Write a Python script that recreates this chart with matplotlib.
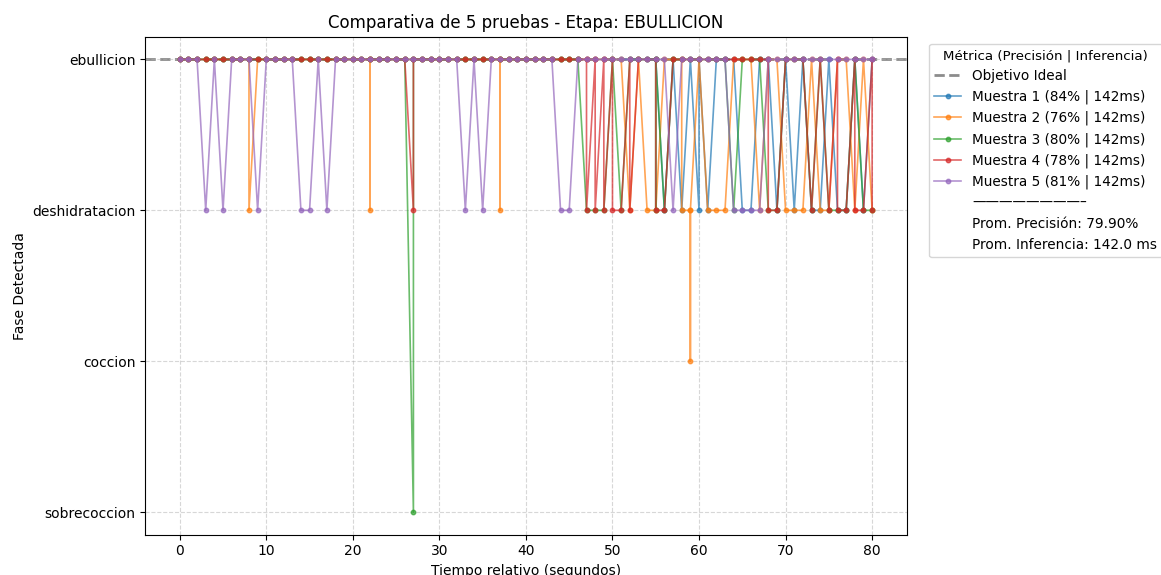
import matplotlib
matplotlib.use("Agg")
import matplotlib.pyplot as plt
from matplotlib.lines import Line2D

# ---- data ----
phases = ["sobrecoccion", "coccion", "deshidratacion", "ebullicion"]
target_phase = 3  # ebullicion

t1 = [0,1,2,3,4,5,6,7,8,9,10,11,12,13,14,15,16,17,18,19,20,21,22,23,24,25,26,27,28,29,
      30,31,32,33,34,35,36,37,38,39,40,41,42,43,44,45,46,47,48,49,50,51,52,53,54,55,56,57,58,59,
      60,60,61,62,63,64,65,66,67,68,69,70,71,72,73,74,75,76,77,78,79,80]
p1 = [3,3,3,3,3,3,3,3,3,3,3,3,3,3,3,3,3,3,3,3,3,3,3,3,3,3,3,3,3,3,
      3,3,3,3,3,3,3,3,3,3,3,3,3,3,3,3,3,3,3,3,3,3,3,3,3,3,2,3,2,3,
      2,3,2,3,3,3,2,2,3,3,2,3,2,3,2,2,3,2,2,3,2,3]

t2 = [0,1,2,3,4,5,6,7,8,8,9,10,11,12,13,14,15,16,17,18,19,20,21,22,22,22,23,24,25,26,27,28,29,
      30,31,32,33,34,35,36,37,37,37,38,39,40,41,42,43,44,45,46,47,48,49,50,51,52,53,54,55,56,57,
      58,58,59,59,59,60,61,62,63,64,65,66,67,68,69,70,71,72,73,74,75,76,77,78,79,80]
p2 = [3,3,3,3,3,3,3,3,3,2,3,3,3,3,3,3,3,3,3,3,3,3,3,3,2,3,3,3,3,3,3,3,3,
      3,3,3,3,3,3,3,3,2,3,3,3,3,3,3,3,3,3,3,3,3,3,3,3,2,3,2,2,3,3,
      3,2,2,1,2,3,2,2,2,3,3,3,2,3,3,2,2,2,3,2,2,3,3,2,3,2]

t3 = [0,1,2,3,4,5,6,7,8,9,10,11,12,13,14,15,16,17,18,19,20,21,22,23,24,25,26,27,27,28,29,
      30,31,32,33,34,35,36,37,38,39,40,41,42,43,44,45,46,47,48,49,50,51,52,53,54,55,55,55,56,57,
      58,59,60,61,62,63,64,65,66,67,68,69,70,71,72,73,74,75,76,77,78,79,80]
p3 = [3,3,3,3,3,3,3,3,3,3,3,3,3,3,3,3,3,3,3,3,3,3,3,3,3,3,3,0,3,3,3,
      3,3,3,3,3,3,3,3,3,3,3,3,3,3,3,3,3,2,2,2,3,2,3,3,3,3,2,3,2,3,
      3,3,3,3,3,3,2,3,3,3,2,2,3,3,3,2,3,2,2,2,3,2,2]

t4 = [0,1,2,3,4,5,6,7,8,9,10,11,12,13,14,15,16,17,18,19,20,21,22,23,24,25,26,27,27,28,29,
      30,31,32,33,34,35,36,37,38,39,40,41,42,43,44,45,46,47,47,48,48,49,49,50,50,51,52,52,53,54,
      55,55,56,57,58,59,60,61,62,63,64,65,66,67,68,68,69,70,71,72,73,74,75,76,76,77,78,78,79,80,80]
p4 = [3,3,3,3,3,3,3,3,3,3,3,3,3,3,3,3,3,3,3,3,3,3,3,3,3,3,3,2,3,3,3,
      3,3,3,3,3,3,3,3,3,3,3,3,3,3,3,3,3,3,2,3,2,3,2,3,2,2,3,2,3,3,
      3,2,2,3,3,3,3,3,3,3,3,3,3,3,3,2,2,3,3,3,2,3,2,3,2,2,3,2,2,3,2]

t5 = [0,1,2,3,4,5,6,7,8,9,10,11,12,13,14,15,16,17,18,19,20,21,22,23,24,25,26,27,28,29,
      30,31,32,33,34,35,36,37,38,39,40,41,42,43,44,45,46,47,48,49,50,51,52,53,54,55,56,57,58,59,
      60,61,62,63,64,65,66,67,68,69,70,71,72,73,74,75,76,77,78,79,80]
p5 = [3,3,3,2,3,2,3,3,3,2,3,3,3,3,2,2,3,2,3,3,3,3,3,3,3,3,3,3,3,3,
      3,3,3,2,3,2,3,3,3,3,3,3,3,3,2,2,3,3,3,3,3,3,3,3,3,3,3,2,3,3,
      3,3,3,3,2,2,2,2,3,3,3,3,3,3,3,3,3,3,3,3,3]

times = [t1, t2, t3, t4, t5]
preds = [p1, p2, p3, p4, p5]
precisions = [84, 76, 80, 78, 81]
inferences = [142, 142, 142, 142, 142]
avg_precision = 79.90
avg_inference = 142.0
colors = ["#1f77b4", "#ff7f0e", "#2ca02c", "#d62728", "#9467bd"]

# ---- plot ----
fig = plt.figure(figsize=(11.61, 5.75), dpi=100)
ax = fig.add_axes([0.125, 0.070, 0.656, 0.866])

ax.axhline(target_phase, color="gray", linestyle="--", linewidth=2, alpha=0.9,
           label="Objetivo Ideal", zorder=1)

for i, (t, p) in enumerate(zip(times, preds)):
    ax.plot(t, p, marker="o", markersize=3.2, linewidth=1.2, alpha=0.7,
            color=colors[i],
            label=f"Muestra {i+1} ({precisions[i]}% | {inferences[i]}ms)", zorder=2)

ax.set_yticks(range(len(phases)))
ax.set_yticklabels(phases)
ax.set_xticks([0, 10, 20, 30, 40, 50, 60, 70, 80])
ax.grid(True, linestyle="--", alpha=0.5)
ax.set_title("Comparativa de 5 pruebas - Etapa: EBULLICION", fontsize=12)
ax.set_xlabel("Tiempo relativo (segundos)")
ax.set_ylabel("Fase Detectada")

handles, labels = ax.get_legend_handles_labels()
blank = Line2D([], [], linestyle="none", marker=None)
handles += [blank, blank, blank]
labels += ["\u2014\u2014\u2014\u2014\u2014\u2014\u2014\u2014\u2013",
           f"Prom. Precisión: {avg_precision:.2f}%",
           f"Prom. Inferencia: {avg_inference:.1f} ms"]
ax.legend(handles, labels, title="Métrica (Precisión | Inferencia)",
          loc="upper left", bbox_to_anchor=(1.02, 1.0), fontsize=9.8,
          title_fontsize=9.6)

fig.savefig("out.png", dpi=100)
